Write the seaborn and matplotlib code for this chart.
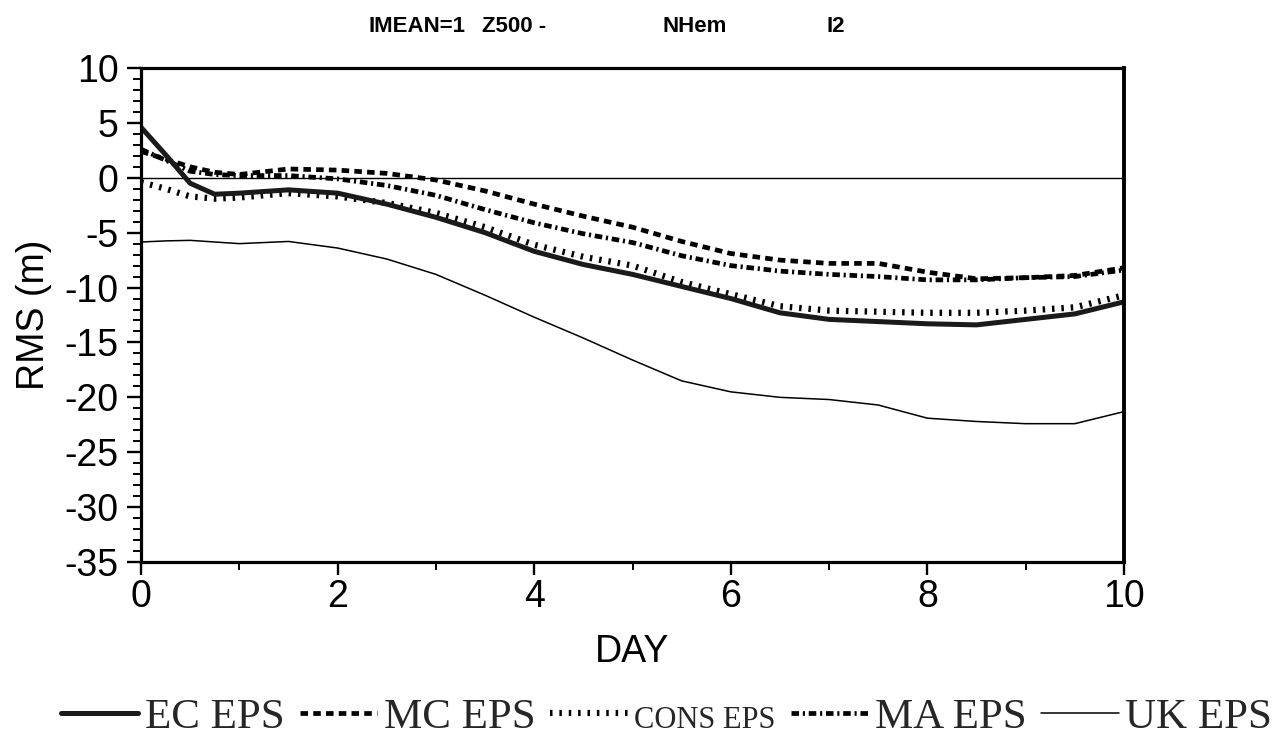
import matplotlib
matplotlib.use("Agg")
import matplotlib.pyplot as plt
import seaborn as sns
import numpy as np
from matplotlib.ticker import MultipleLocator

# ---- data ----
days = [0, 0.25, 0.5, 0.75, 1.0, 1.5, 2.0, 2.5, 3.0, 3.5, 4.0, 4.5, 5.0,
        5.5, 6.0, 6.5, 7.0, 7.5, 8.0, 8.5, 9.0, 9.5, 10.0]
ec_eps = [4.6, 2.1, -0.5, -1.5, -1.4, -1.1, -1.4, -2.4, -3.6, -5.0, -6.7, -7.9, -8.8,
          -9.9, -11.0, -12.3, -12.9, -13.1, -13.3, -13.4, -12.9, -12.4, -11.3]
mc_eps = [2.4, 1.7, 1.0, 0.5, 0.3, 0.8, 0.7, 0.4, -0.2, -1.2, -2.4, -3.5, -4.5,
          -5.8, -6.9, -7.5, -7.8, -7.8, -8.6, -9.2, -9.1, -8.9, -8.2]
cons_eps = [-0.4, -1.0, -1.7, -1.9, -1.8, -1.4, -1.7, -2.3, -3.2, -4.5, -6.1, -7.2, -8.0,
            -9.5, -10.6, -11.7, -12.1, -12.2, -12.3, -12.3, -12.1, -11.8, -10.7]
ma_eps = [2.6, 1.6, 0.6, 0.3, 0.2, 0.2, -0.1, -0.7, -1.6, -2.9, -4.1, -5.1, -5.9,
          -7.1, -8.0, -8.5, -8.8, -9.0, -9.3, -9.3, -9.1, -9.0, -8.4]
uk_eps = [-5.85, -5.75, -5.7, -5.85, -6.0, -5.8, -6.4, -7.4, -8.8, -10.7, -12.7, -14.6, -16.6,
          -18.5, -19.5, -20.0, -20.2, -20.7, -21.9, -22.2, -22.4, -22.4, -21.3]

series_labels = ["EC EPS", "MC EPS", "CONS EPS", "MA EPS", "UK EPS"]
title_parts = ["IMEAN=1", "Z500 -", "NHem", "I2"]
x_label = "DAY"
y_label = "RMS (m)"

sns.set_theme(style="ticks")
plt.rcParams["font.family"] = ["Liberation Sans", "DejaVu Sans"]
plt.rcParams["axes.unicode_minus"] = False

fig = plt.figure(figsize=(12.77, 7.41), dpi=100)
ax = fig.add_axes([141/1277, 1-562/741, (1124-141)/1277, (562-68)/741])

ax.axhline(0, color="black", lw=1.0, zorder=1)

sns.lineplot(x=days, y=uk_eps, ax=ax, color="black", linewidth=1.1, label=series_labels[4])
sns.lineplot(x=days, y=cons_eps, ax=ax, color="black", linewidth=4.5,
             linestyle=(0, (0.4, 1.1)), label=series_labels[2])
sns.lineplot(x=days, y=ma_eps, ax=ax, color="black", linewidth=3.4,
             linestyle=(0, (1.6, 0.8, 0.45, 0.8)), label=series_labels[3])
sns.lineplot(x=days, y=mc_eps, ax=ax, color="black", linewidth=3.4,
             linestyle=(0, (1.6, 1.1)), label=series_labels[1])
sns.lineplot(x=days, y=ec_eps, ax=ax, color="#1a1a1a", linewidth=3.6, label=series_labels[0])

ax.set_xlim(0, 10)
ax.set_ylim(-35, 10)
ax.xaxis.set_major_locator(MultipleLocator(2))
ax.xaxis.set_minor_locator(MultipleLocator(1))
ax.yaxis.set_major_locator(MultipleLocator(5))
ax.yaxis.set_minor_locator(MultipleLocator(1))

for side in ["left", "right", "top", "bottom"]:
    ax.spines[side].set_visible(True)
    ax.spines[side].set_color("black")
    ax.spines[side].set_linewidth(2.3)
ax.spines["right"].set_linewidth(2.8)

ax.tick_params(axis="y", which="major", direction="out", length=10, width=1.7,
               labelsize=27, pad=6, colors="black")
ax.tick_params(axis="y", which="minor", direction="out", length=6, width=1.4, colors="black")
ax.tick_params(axis="x", which="major", direction="out", length=9, width=1.7,
               labelsize=27, pad=3, colors="black")
ax.tick_params(axis="x", which="minor", direction="out", length=6, width=1.4, colors="black")
ax.grid(False)

ax.set_xlabel(x_label, fontsize=27, labelpad=14, color="black")
ax.set_ylabel(y_label, fontsize=27, labelpad=9, color="black")

# title pieces
title_x = [368, 482, 662, 826]
for txt, px in zip(title_parts, title_x):
    fig.text(px/1277, 1-27/741, txt, ha="left", va="center", fontsize=16,
             fontweight="bold", color="black")

handles, labels = ax.get_legend_handles_labels()
ax.get_legend().remove()
order = [labels.index(l) for l in series_labels]
handles = [handles[i] for i in order]
labels = [labels[i] for i in order]
leg = fig.legend(handles, labels, loc="center", bbox_to_anchor=(0.522, 1-717/741),
                 ncol=5, frameon=False, handlelength=1.8, handletextpad=0.15,
                 columnspacing=0.35, prop={"family": "Liberation Serif", "size": 31})
for t in leg.get_texts():
    if t.get_text() == "CONS EPS":
        t.set_fontsize(22)

fig.savefig("out.png", dpi=100, facecolor="white")
